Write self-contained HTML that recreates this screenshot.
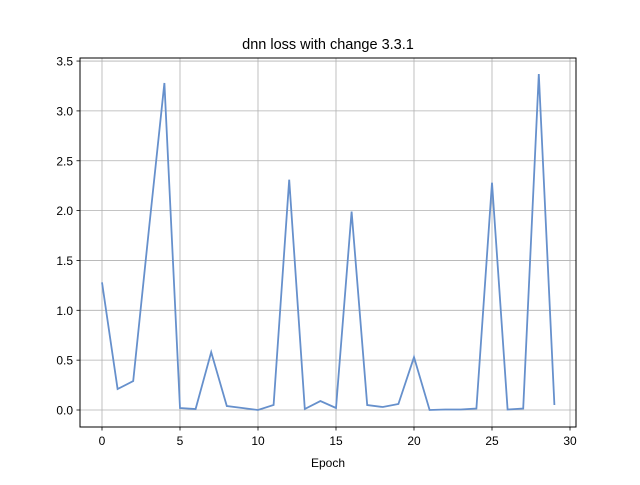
<!DOCTYPE html>
<html><head><meta charset="utf-8"><style>
body{margin:0;background:#fff;font-family:"Liberation Sans","DejaVu Sans",sans-serif}
</style></head><body>
<svg id="chart" width="640" height="480" xmlns="http://www.w3.org/2000/svg">
<rect width="640" height="480" fill="#fff"/>
<text x="328" y="49" text-anchor="middle" font-size="14.5" fill="#000">dnn loss with change 3.3.1</text>
<g id="grid"></g>
<g id="ticks"></g>
<polyline id="line" fill="none" stroke="#6690cc" stroke-width="1.8"/>
<rect x="80" y="58" width="496" height="369" fill="none" stroke="#000" stroke-width="1"/>
<text x="328" y="467" text-anchor="middle" font-size="12">Epoch</text>
</svg>
<script>
const epochs=[0,1,2,3,4,5,6,7,8,9,10,11,12,13,14,15,16,17,18,19,20,21,22,23,24,25,26,27,28,29];
const losses=[1.28,0.21,0.29,1.8,3.28,0.02,0.01,0.58,0.04,0.02,0.0,0.05,2.31,0.01,0.09,0.02,1.99,0.05,0.03,0.06,0.53,0.0,0.005,0.005,0.015,2.28,0.005,0.015,3.37,0.05];
const xTicks=[0,5,10,15,20,25,30];
const yTicks=[0,0.5,1.0,1.5,2.0,2.5,3.0,3.5];
const xs=v=>102+v*15.6;
const ys=v=>410-v*99.7;
const NS="http://www.w3.org/2000/svg";
const grid=document.getElementById('grid'),ticks=document.getElementById('ticks');
function mk(tag,attrs,parent){const e=document.createElementNS(NS,tag);for(const k in attrs)e.setAttribute(k,attrs[k]);parent.appendChild(e);return e;}
xTicks.forEach(t=>{const x=xs(t);
 const g=mk('line',{x1:x,x2:x,y1:58,y2:427,stroke:'#b0b0b0','stroke-width':0.8},grid);
 
 
 mk('line',{x1:x,x2:x,y1:427,y2:430.5,stroke:'#000','stroke-width':0.8},ticks);
 const l=mk('text',{x:x,y:445,'text-anchor':'middle','font-size':12},ticks);l.textContent=t;
 
 
});
yTicks.forEach(t=>{const y=ys(t);
 const g=mk('line',{x1:80,x2:576,y1:y,y2:y,stroke:'#b0b0b0','stroke-width':0.8},grid);
 
 
 mk('line',{x1:76.5,x2:80,y1:y,y2:y,stroke:'#000','stroke-width':0.8},ticks);
 const l=mk('text',{x:73,y:y+4.5,'text-anchor':'end','font-size':12},ticks);l.textContent=t.toFixed(1);
 
 
});
document.getElementById('line').setAttribute('points',epochs.map((e,i)=>xs(e)+','+ys(losses[i])).join(' '));
</script>
</body></html>
